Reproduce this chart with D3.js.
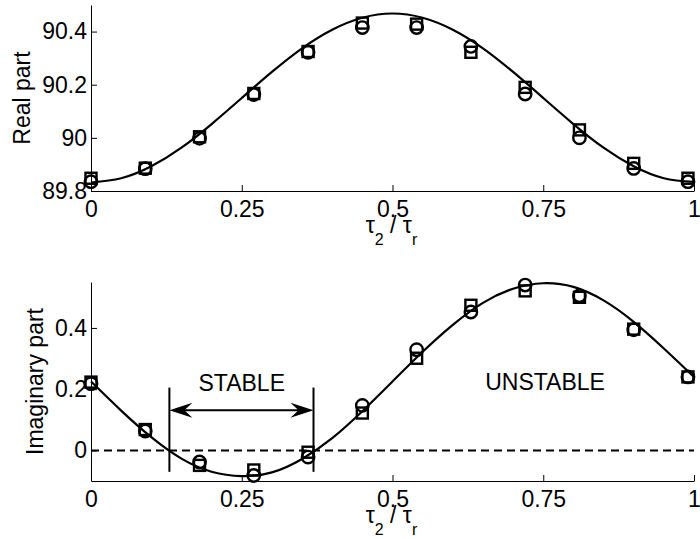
<!DOCTYPE html>
<html lang="en">
  <head>
    <meta charset="UTF-8" />
    <title>Real and imaginary part vs tau2/taur</title>
    <script src="https://d3js.org/d3.v7.min.js"></script>
    <style>
      body { margin: 0; background: #fff; }
      text { font-family: "Liberation Sans", Arial, Helvetica, sans-serif; }
    </style>
  </head>
  <body>
    <div id="chart"></div>
  </body>
</html>

<script>
  // sample positions of the markers (tau2 / taur)
  const xPts = [0, 0.09, 0.18, 0.27, 0.36, 0.45, 0.54, 0.63, 0.72, 0.81, 0.9, 0.99]

  // real part: squares and circles
  const realSquare = [89.848, 89.886, 90.004, 90.167, 90.325, 90.432, 90.428, 90.322, 90.19, 90.03, 89.904, 89.848]
  const realCircle = [89.835, 89.884, 89.998, 90.163, 90.322, 90.415, 90.415, 90.344, 90.165, 90.0, 89.885, 89.835]

  // imaginary part: squares and circles
  const imagSquare = [0.223, 0.068, -0.049, -0.064, -0.006, 0.122, 0.301, 0.474, 0.521, 0.5, 0.396, 0.24]
  const imagCircle = [0.218, 0.063, -0.038, -0.082, -0.022, 0.147, 0.329, 0.452, 0.54, 0.505, 0.394, 0.24]

  // continuous curves
  const curveX = [0, 0.05, 0.1, 0.15, 0.2, 0.25, 0.3, 0.35, 0.4, 0.45, 0.5,
                  0.55, 0.6, 0.65, 0.7, 0.75, 0.8, 0.85, 0.9, 0.95, 1]
  const realCurve = [89.832, 89.848, 89.893, 89.963, 90.052, 90.15, 90.248, 90.337, 90.407, 90.452, 90.468,
                     90.452, 90.407, 90.337, 90.248, 90.15, 90.052, 89.963, 89.893, 89.848, 89.834]
  const imagCurve = [0.225, 0.13, 0.043, -0.027, -0.07, -0.084, -0.072, -0.028, 0.04, 0.128, 0.225,
                     0.322, 0.41, 0.482, 0.528, 0.546, 0.534, 0.49, 0.42, 0.333, 0.24]

  // tick labels
  const xTicks = [0, 0.25, 0.5, 0.75, 1]
  const xTickLabels = ["0", "0.25", "0.5", "0.75", "1"]
  const realTicks = [89.8, 90, 90.2, 90.4]
  const imagTicks = [0, 0.2, 0.4]

  // stability annotation (data coords)
  const stableEdges = [0.13, 0.369]
  const stableArrowY = 0.131
  const stableBar = [-0.07, 0.205]

  const W = 700, H = 539
  const FS = 23

  const svg = d3.select("#chart").append("svg")
    .attr("width", W).attr("height", H)

  const x = d3.scaleLinear().domain([0, 1]).range([91, 694])
  const yReal = d3.scaleLinear().domain([89.8, 90.5]).range([191, 5])
  const yImag = d3.scaleLinear().domain([-0.1, 0.55]).range([481, 282])

  function drawAxes(y, ticks, fmt, label, labelX) {
    const y0 = y.range()[0]
    const gx = svg.append("g")
      .attr("transform", `translate(0,${y0})`)
      .call(d3.axisBottom(x).tickValues(xTicks)
        .tickFormat((d, i) => xTickLabels[i])
        .tickSizeInner(-6).tickSizeOuter(0).tickPadding(10))
    const gy = svg.append("g")
      .attr("transform", `translate(${x.range()[0]},0)`)
      .call(d3.axisLeft(y).tickValues(ticks).tickFormat(fmt)
        .tickSizeInner(-6).tickSizeOuter(0).tickPadding(4))
    for (const g of [gx, gy]) {
      g.selectAll("text").attr("font-size", FS).attr("fill", "#000")
        .style("font-family", '"Liberation Sans", Arial, sans-serif')
      g.selectAll("line").attr("stroke", "#000")
      g.select(".domain").attr("stroke", "#000")
    }

    // x label: tau_2 / tau_r
    const xl = svg.append("text")
      .attr("x", (x.range()[0] + x.range()[1]) / 2 - 1)
      .attr("y", y0 + 42)
      .attr("text-anchor", "middle")
      .attr("font-size", FS)
    xl.append("tspan").text("τ")
    xl.append("tspan").attr("dy", 12).attr("font-size", 16).text("2")
    xl.append("tspan").attr("dy", -12).text(" / τ")
    xl.append("tspan").attr("dy", 12).attr("font-size", 16).text("r")

    // y label
    const cy = (y.range()[0] + y.range()[1]) / 2
    svg.append("text")
      .attr("transform", `translate(${labelX},${cy}) rotate(-90)`)
      .attr("text-anchor", "middle")
      .attr("font-size", FS)
      .text(label)
  }

  function drawSeries(y, curve, squares, circles) {
    const line = d3.line()
      .x((d, i) => x(curveX[i]))
      .y(d => y(d))
      .curve(d3.curveNatural)
    svg.append("path")
      .datum(curve)
      .attr("d", line)
      .attr("fill", "none")
      .attr("stroke", "#000")
      .attr("stroke-width", 2.2)

    const s = 11
    svg.append("g").selectAll("rect")
      .data(squares).enter().append("rect")
      .attr("x", (d, i) => x(xPts[i]) - s / 2)
      .attr("y", d => y(d) - s / 2)
      .attr("width", s).attr("height", s)
      .attr("fill", "none").attr("stroke", "#000").attr("stroke-width", 2.4)

    svg.append("g").selectAll("circle")
      .data(circles).enter().append("circle")
      .attr("cx", (d, i) => x(xPts[i]))
      .attr("cy", d => y(d))
      .attr("r", 6.2)
      .attr("fill", "none").attr("stroke", "#000").attr("stroke-width", 2.4)
  }

  // top panel
  drawAxes(yReal, realTicks, d => String(+d.toFixed(1)), "Real part", 30)
  drawSeries(yReal, realCurve, realSquare, realCircle)

  // bottom panel
  drawAxes(yImag, imagTicks, d => String(+d.toFixed(1)), "Imaginary part", 43)

  // zero line (dashed)
  svg.append("line")
    .attr("x1", x(0)).attr("x2", x(1))
    .attr("y1", yImag(0)).attr("y2", yImag(0))
    .attr("stroke", "#000").attr("stroke-width", 2)
    .attr("stroke-dasharray", "8,5")

  drawSeries(yImag, imagCurve, imagSquare, imagCircle)

  // stable region markers
  stableEdges.forEach(e => {
    svg.append("line")
      .attr("x1", x(e)).attr("x2", x(e))
      .attr("y1", yImag(stableBar[0])).attr("y2", yImag(stableBar[1]))
      .attr("stroke", "#000").attr("stroke-width", 2)
  })
  const ax0 = x(stableEdges[0]), ax1 = x(stableEdges[1]), ay = yImag(stableArrowY)
  svg.append("line")
    .attr("x1", ax0 + 4).attr("x2", ax1 - 4)
    .attr("y1", ay).attr("y2", ay)
    .attr("stroke", "#000").attr("stroke-width", 2)
  // barbed arrow heads
  const headL = 23, headW = 7.5, notch = 15
  svg.append("path")
    .attr("d", `M${ax0},${ay} L${ax0 + headL},${ay - headW} L${ax0 + notch},${ay} L${ax0 + headL},${ay + headW} Z`)
    .attr("fill", "#000")
  svg.append("path")
    .attr("d", `M${ax1},${ay} L${ax1 - headL},${ay - headW} L${ax1 - notch},${ay} L${ax1 - headL},${ay + headW} Z`)
    .attr("fill", "#000")

  svg.append("text")
    .attr("x", x(0.25)).attr("y", yImag(0.193))
    .attr("text-anchor", "middle").attr("font-size", FS)
    .text("STABLE")
  svg.append("text")
    .attr("x", x(0.753)).attr("y", yImag(0.198))
    .attr("text-anchor", "middle").attr("font-size", FS)
    .text("UNSTABLE")
</script>
